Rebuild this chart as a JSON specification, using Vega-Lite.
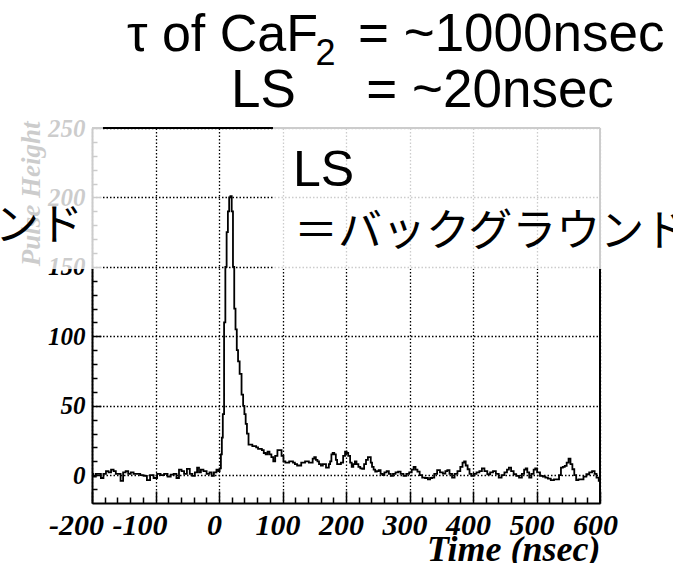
{
  "$schema": "https://vega.github.io/schema/vega-lite/v6.json",
  "autosize": {"type": "none"},
  "padding": {"left": 92, "top": 128, "right": 73, "bottom": 60},
  "width": 508,
  "height": 375,
  "background": "white",
  "config": {"view": {"stroke": null}},
  "datasets": {
    "one": [{}],
    "trace": [
      {"t": -200, "v": 1}, {"t": -196, "v": -1}, {"t": -192, "v": 1}, {"t": -188, "v": 1}, {"t": -184, "v": -2},
      {"t": -180, "v": 1}, {"t": -176, "v": 3}, {"t": -172, "v": 2}, {"t": -168, "v": 4}, {"t": -164, "v": 3},
      {"t": -161, "v": 1}, {"t": -157, "v": 1}, {"t": -153, "v": -4}, {"t": -149, "v": 2}, {"t": -145, "v": 3},
      {"t": -141, "v": 1}, {"t": -137, "v": 2}, {"t": -132, "v": 1}, {"t": -127, "v": 1}, {"t": -121, "v": 0},
      {"t": -116, "v": -0.5}, {"t": -111, "v": -3.5}, {"t": -106, "v": 0}, {"t": -100, "v": -2}, {"t": -95, "v": 1},
      {"t": -89, "v": 0}, {"t": -84, "v": 1}, {"t": -78, "v": -1}, {"t": -74, "v": 0.5}, {"t": -69, "v": 1},
      {"t": -65, "v": -2}, {"t": -61, "v": 4}, {"t": -57, "v": 3}, {"t": -53, "v": 1}, {"t": -48, "v": 4.5},
      {"t": -44, "v": 1}, {"t": -40, "v": -0.5}, {"t": -36, "v": 2}, {"t": -33, "v": 5.5}, {"t": -30, "v": 2},
      {"t": -27, "v": 4}, {"t": -22, "v": 3}, {"t": -17, "v": 1}, {"t": -13, "v": 2}, {"t": -10, "v": -0.5},
      {"t": -6, "v": 2}, {"t": -2, "v": 4}, {"t": 0, "v": 3}, {"t": 2, "v": 5}, {"t": 4, "v": 15},
      {"t": 5, "v": 27}, {"t": 7, "v": 44}, {"t": 9, "v": 110}, {"t": 11, "v": 150}, {"t": 13, "v": 175},
      {"t": 15, "v": 190}, {"t": 17, "v": 200}, {"t": 19, "v": 201}, {"t": 21, "v": 190}, {"t": 23, "v": 150},
      {"t": 25, "v": 120}, {"t": 27, "v": 105}, {"t": 29, "v": 90}, {"t": 31, "v": 82}, {"t": 34, "v": 73},
      {"t": 37, "v": 58}, {"t": 39, "v": 50}, {"t": 41, "v": 44}, {"t": 43, "v": 37}, {"t": 45, "v": 30},
      {"t": 48, "v": 22}, {"t": 51, "v": 22}, {"t": 54, "v": 21}, {"t": 57, "v": 21}, {"t": 60, "v": 20},
      {"t": 63, "v": 19}, {"t": 66, "v": 19}, {"t": 69, "v": 18}, {"t": 72, "v": 16}, {"t": 75, "v": 15},
      {"t": 78, "v": 17}, {"t": 81, "v": 15}, {"t": 84, "v": 13}, {"t": 87, "v": 10}, {"t": 90, "v": 14},
      {"t": 94, "v": 18}, {"t": 97, "v": 18}, {"t": 100, "v": 14}, {"t": 103, "v": 10}, {"t": 106, "v": 9},
      {"t": 109, "v": 9}, {"t": 112, "v": 10}, {"t": 115, "v": 10}, {"t": 118, "v": 9}, {"t": 121, "v": 8},
      {"t": 125, "v": 7}, {"t": 128, "v": 7}, {"t": 131, "v": 9}, {"t": 134, "v": 9}, {"t": 137, "v": 10},
      {"t": 140, "v": 10}, {"t": 143, "v": 9}, {"t": 146, "v": 9}, {"t": 149, "v": 12}, {"t": 151, "v": 13},
      {"t": 154, "v": 11}, {"t": 156, "v": 10}, {"t": 159, "v": 8}, {"t": 162, "v": 7}, {"t": 165, "v": 8},
      {"t": 167, "v": 8}, {"t": 170, "v": 5.5}, {"t": 172, "v": 5.5}, {"t": 174, "v": 8}, {"t": 176, "v": 10},
      {"t": 178, "v": 15}, {"t": 180, "v": 16}, {"t": 183, "v": 15}, {"t": 185, "v": 11}, {"t": 187, "v": 8},
      {"t": 190, "v": 8}, {"t": 194, "v": 9}, {"t": 197, "v": 14}, {"t": 200, "v": 17}, {"t": 202, "v": 16},
      {"t": 205, "v": 14}, {"t": 208, "v": 9}, {"t": 210, "v": 6}, {"t": 213, "v": 8}, {"t": 215, "v": 10},
      {"t": 218, "v": 8}, {"t": 221, "v": 6}, {"t": 224, "v": 5}, {"t": 227, "v": 4.5}, {"t": 230, "v": 8},
      {"t": 233, "v": 11}, {"t": 236, "v": 13}, {"t": 238, "v": 13}, {"t": 240, "v": 9}, {"t": 242, "v": 6},
      {"t": 245, "v": 4}, {"t": 247, "v": 2.6}, {"t": 250, "v": 3}, {"t": 253, "v": 3.6}, {"t": 256, "v": 1},
      {"t": 259, "v": 0}, {"t": 262, "v": 2}, {"t": 266, "v": 3}, {"t": 269, "v": 1}, {"t": 272, "v": -0.5},
      {"t": 276, "v": 1}, {"t": 280, "v": 2}, {"t": 284, "v": 2.6}, {"t": 288, "v": 1}, {"t": 293, "v": -0.5},
      {"t": 297, "v": 1}, {"t": 302, "v": 2}, {"t": 305, "v": 4}, {"t": 308, "v": 6}, {"t": 311, "v": 4},
      {"t": 314, "v": 2.6}, {"t": 318, "v": 0}, {"t": 322, "v": -1.7}, {"t": 327, "v": -2}, {"t": 331, "v": -3},
      {"t": 334, "v": -2}, {"t": 337, "v": -1.7}, {"t": 341, "v": 1}, {"t": 346, "v": 3.6}, {"t": 350, "v": 2},
      {"t": 355, "v": 1.2}, {"t": 358, "v": 3}, {"t": 361, "v": 3.6}, {"t": 365, "v": 1}, {"t": 369, "v": -1.7},
      {"t": 373, "v": 1}, {"t": 378, "v": 3}, {"t": 382, "v": 6}, {"t": 385, "v": 9}, {"t": 387, "v": 10},
      {"t": 390, "v": 7}, {"t": 393, "v": 4.3}, {"t": 396, "v": 1}, {"t": 399, "v": -0.5}, {"t": 403, "v": 1},
      {"t": 408, "v": 2}, {"t": 412, "v": 3}, {"t": 416, "v": 5}, {"t": 420, "v": 3}, {"t": 425, "v": 0.7},
      {"t": 429, "v": 2}, {"t": 434, "v": 3}, {"t": 438, "v": 1}, {"t": 443, "v": -1.7}, {"t": 447, "v": 0},
      {"t": 452, "v": 2}, {"t": 455, "v": 4}, {"t": 458, "v": 5.5}, {"t": 462, "v": 3}, {"t": 466, "v": 0.7},
      {"t": 470, "v": -0.5}, {"t": 475, "v": -1.7}, {"t": 479, "v": 1}, {"t": 482, "v": 4}, {"t": 484, "v": 5},
      {"t": 487, "v": 2}, {"t": 490, "v": -1.7}, {"t": 494, "v": 1}, {"t": 497, "v": 4}, {"t": 499, "v": 5},
      {"t": 503, "v": 2}, {"t": 508, "v": -0.5}, {"t": 512, "v": -1}, {"t": 516, "v": -1.7}, {"t": 520, "v": -2.5},
      {"t": 525, "v": -3.6}, {"t": 530, "v": -3}, {"t": 534, "v": -3}, {"t": 537, "v": 0}, {"t": 540, "v": 5.5},
      {"t": 543, "v": 6}, {"t": 546, "v": 6.7}, {"t": 549, "v": 9}, {"t": 552, "v": 12}, {"t": 555, "v": 8},
      {"t": 558, "v": 4.3}, {"t": 561, "v": 0}, {"t": 564, "v": -3.6}, {"t": 568, "v": -3}, {"t": 572, "v": -3},
      {"t": 576, "v": -1}, {"t": 581, "v": 0.7}, {"t": 585, "v": 2}, {"t": 590, "v": 3}, {"t": 593, "v": 1},
      {"t": 596, "v": -1.7}, {"t": 600, "v": -4}
    ]
  },
  "layer": [
    {
      "data": {"name": "trace"},
      "mark": {"type": "line", "interpolate": "step", "color": "black", "strokeWidth": 1.8},
      "encoding": {
        "x": {
          "field": "t", "type": "quantitative",
          "scale": {"domain": [-200, 600], "nice": false, "zero": false},
          "axis": {
            "orient": "bottom",
            "values": [-200, -100, 0, 100, 200, 300, 400, 500, 600],
            "labelExpr": "'' + datum.value",
            "title": "Time (nsec)",
            "grid": true, "gridColor": "black", "gridDash": [1.5, 2], "gridWidth": 1.3, "gridOpacity": 1,
            "tickSize": -12, "tickColor": "black", "tickWidth": 1.5,
            "domainColor": "black", "domainWidth": 2,
            "labelFont": "Liberation Serif", "labelFontStyle": "italic", "labelFontWeight": "bold",
            "labelFontSize": 30, "labelColor": "black", "labelPadding": 19,
            "labelOffset": {"condition": {"test": "datum.value < 0", "value": -16}, "value": -5},
            "labelFlush": false, "labelOverlap": false, "labelBound": false,
            "titleFont": "Liberation Serif", "titleFontStyle": "italic", "titleFontWeight": "bold",
            "titleFontSize": 36, "titleColor": "black",
            "titleAnchor": "end", "titleAlign": "right", "titleBaseline": "alphabetic", "titleY": 57
          }
        },
        "y": {
          "field": "v", "type": "quantitative",
          "scale": {"domain": [-20, 250], "nice": false, "zero": false},
          "axis": {
            "orient": "left",
            "values": [0, 50, 100, 150, 200, 250],
            "title": "Pulse Height",
            "grid": true, "gridColor": "black", "gridDash": [1.5, 2], "gridWidth": 1.3, "gridOpacity": 1,
            "tickSize": -9, "tickColor": "black", "tickWidth": 1.5,
            "domainColor": "black", "domainWidth": 2,
            "labelFont": "Liberation Serif", "labelFontStyle": "italic", "labelFontWeight": "bold",
            "labelFontSize": 25, "labelColor": "black", "labelPadding": 16,
            "labelFlush": false, "labelOverlap": false, "labelBound": false,
            "titleFont": "Liberation Serif", "titleFontStyle": "italic", "titleFontWeight": "bold",
            "titleFontSize": 27, "titleColor": "black",
            "titleAngle": -90, "titleAnchor": "end", "titleAlign": "right", "titleBaseline": "alphabetic",
            "titleX": -53, "titleY": -7
          }
        }
      }
    },
    {
      "data": {"name": "trace"},
      "mark": {"type": "line", "strokeOpacity": 0},
      "encoding": {
        "x": {
          "field": "t", "type": "quantitative",
          "axis": {
            "orient": "bottom", "title": null, "labels": false, "domain": false, "grid": false,
            "values": [-180, -160, -140, -120, -80, -60, -40, -20, 20, 40, 60, 80, 120, 140, 160, 180, 220, 240, 260, 280, 320, 340, 360, 380, 420, 440, 460, 480, 520, 540, 560, 580],
            "tickSize": -6, "tickColor": "black", "tickWidth": 1.5
          }
        },
        "y": {
          "field": "v", "type": "quantitative",
          "axis": {
            "orient": "left", "title": null, "labels": false, "domain": false, "grid": false,
            "values": [-10, 10, 20, 30, 40, 60, 70, 80, 90, 110, 120, 130, 140, 160, 170, 180, 190, 210, 220, 230, 240],
            "tickSize": -5, "tickColor": "black", "tickWidth": 1.5
          }
        }
      }
    },
    {
      "data": {"name": "one"},
      "mark": {"type": "rule", "color": "black", "strokeWidth": 2, "clip": false},
      "encoding": {
        "x": {"datum": -200, "type": "quantitative", "axis": null},
        "x2": {"datum": 600},
        "y": {"datum": 250, "type": "quantitative", "axis": null}
      }
    },
    {
      "data": {"name": "one"},
      "mark": {"type": "rule", "color": "black", "strokeWidth": 2, "clip": false},
      "encoding": {
        "x": {"datum": 600, "type": "quantitative", "axis": null},
        "y": {"datum": -20, "type": "quantitative", "axis": null},
        "y2": {"datum": 250}
      }
    },
    {
      "data": {"name": "one"},
      "mark": {"type": "rect", "color": "white", "opacity": 0.8, "clip": false},
      "encoding": {
        "x": {"datum": -360, "type": "quantitative", "axis": null},
        "x2": {"datum": -182.7},
        "y": {"datum": 148.5, "type": "quantitative", "axis": null},
        "y2": {"datum": 262}
      }
    },
    {
      "data": {"name": "one"},
      "mark": {"type": "rect", "color": "white", "opacity": 0.8, "clip": false},
      "encoding": {
        "x": {"datum": 85, "type": "quantitative", "axis": null},
        "x2": {"datum": 720},
        "y": {"datum": 148.5, "type": "quantitative", "axis": null},
        "y2": {"datum": 262}
      }
    },
    {
      "data": {"name": "one"},
      "mark": {"type": "text", "align": "left", "baseline": "alphabetic", "font": "Liberation Sans", "fontSize": 52, "color": "black", "clip": false},
      "encoding": {
        "x": {"datum": -145, "type": "quantitative", "axis": null},
        "y": {"datum": 305.1, "type": "quantitative", "axis": null},
        "text": {"value": "τ of CaF"}
      }
    },
    {
      "data": {"name": "one"},
      "mark": {"type": "text", "align": "left", "baseline": "alphabetic", "font": "Liberation Sans", "fontSize": 36, "color": "black", "clip": false},
      "encoding": {
        "x": {"datum": 152, "type": "quantitative", "axis": null},
        "y": {"datum": 295.7, "type": "quantitative", "axis": null},
        "text": {"value": "2"}
      }
    },
    {
      "data": {"name": "one"},
      "mark": {"type": "text", "align": "left", "baseline": "alphabetic", "font": "Liberation Sans", "fontSize": 53, "color": "black", "clip": false},
      "encoding": {
        "x": {"datum": 218.9, "type": "quantitative", "axis": null},
        "y": {"datum": 305.1, "type": "quantitative", "axis": null},
        "text": {"value": "= ~1000nsec"}
      }
    },
    {
      "data": {"name": "one"},
      "mark": {"type": "text", "align": "left", "baseline": "alphabetic", "font": "Liberation Sans", "fontSize": 53, "color": "black", "clip": false},
      "encoding": {
        "x": {"datum": 19, "type": "quantitative", "axis": null},
        "y": {"datum": 265.4, "type": "quantitative", "axis": null},
        "text": {"value": "LS"}
      }
    },
    {
      "data": {"name": "one"},
      "mark": {"type": "text", "align": "left", "baseline": "alphabetic", "font": "Liberation Sans", "fontSize": 53, "color": "black", "clip": false},
      "encoding": {
        "x": {"datum": 232, "type": "quantitative", "axis": null},
        "y": {"datum": 265.4, "type": "quantitative", "axis": null},
        "text": {"value": "= ~20nsec"}
      }
    },
    {
      "data": {"name": "one"},
      "mark": {"type": "text", "align": "left", "baseline": "alphabetic", "font": "Liberation Sans", "fontSize": 50, "color": "black", "clip": false},
      "encoding": {
        "x": {"datum": 116.5, "type": "quantitative", "axis": null},
        "y": {"datum": 207.9, "type": "quantitative", "axis": null},
        "text": {"value": "LS"}
      }
    },
    {
      "data": {"name": "one"},
      "mark": {"type": "text", "align": "left", "baseline": "middle", "font": "Noto Sans CJK JP", "fontSize": 44, "color": "black", "clip": false},
      "encoding": {
        "x": {"datum": 118, "type": "quantitative", "axis": null},
        "y": {"datum": 174.5, "type": "quantitative", "axis": null},
        "text": {"value": "＝バックグラウンド"}
      }
    },
    {
      "data": {"name": "one"},
      "mark": {"type": "text", "align": "right", "baseline": "middle", "font": "Noto Sans CJK JP", "fontSize": 44, "color": "black", "clip": false},
      "encoding": {
        "x": {"datum": -214.2, "type": "quantitative", "axis": null},
        "y": {"datum": 178.5, "type": "quantitative", "axis": null},
        "text": {"value": "ンド"}
      }
    }
  ],
  "resolve": {"axis": {"x": "independent", "y": "independent"}}
}
